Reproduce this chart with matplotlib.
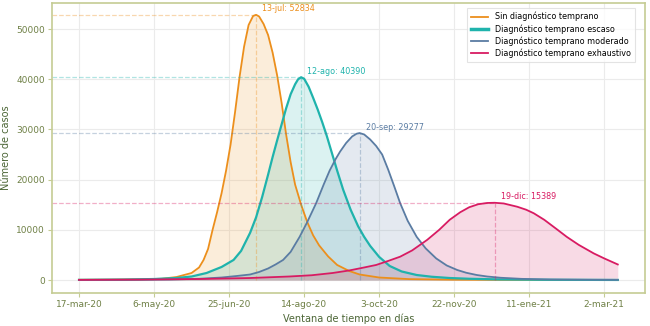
import matplotlib
matplotlib.use('Agg')
import matplotlib.pyplot as plt

# días desde el 17-mar-20
etiquetas_x = ['17-mar-20', '6-may-20', '25-jun-20', '14-ago-20', '3-oct-20',
               '22-nov-20', '11-ene-21', '2-mar-21']
ticks_x = [0, 50, 100, 150, 200, 250, 300, 350]
ticks_y = [0, 10000, 20000, 30000, 40000, 50000]

# sin diagnostico temprano
dias_sin = [0, 20, 40, 55, 65, 75, 80, 83, 86, 89, 92, 95, 98, 101, 104, 107, 110, 113, 116, 118,
            120, 123, 126, 129, 132, 135, 138, 141, 144, 148, 152, 156, 160, 166, 172, 180, 187,
            200, 220, 250, 300, 359]
casos_sin = [50, 70, 130, 250, 600, 1400, 2500, 4000, 6200, 10000, 13500, 17300, 21800, 27000,
             33500, 40500, 46500, 50800, 52600, 52834,
             52500, 51000, 48800, 45300, 40800, 35300, 29000, 23500, 19000, 15000, 11600, 8900,
             6900, 4700, 3000, 1800, 1100, 500, 180, 60, 20, 5]

# diagnostico temprano escaso
dias_escaso = [0, 30, 50, 65, 75, 85, 95, 103, 108, 114, 118, 122, 126, 129, 132, 135, 138, 141,
               144, 146, 148, 150, 153, 156, 159, 162, 165, 168, 172, 176, 181, 186, 190, 194,
               200, 207, 215, 225, 235, 247, 260, 280, 310, 359]
casos_escaso = [30, 80, 200, 400, 700, 1400, 2600, 4000, 5800, 9400, 12500, 16500, 21000, 24500,
                27800, 31000, 34200, 37000, 39000, 40000, 40390, 40100, 38500, 36300, 34000,
                31500, 28800, 25800, 21800, 18000, 14000, 10700, 8600, 6800, 4600, 2800, 1700,
                1000, 650, 400, 250, 120, 50, 15]

# diagnostico temprano moderado
dias_moderado = [0, 30, 60, 80, 95, 105, 114, 120, 126, 131, 136, 141, 147, 152, 158, 163, 167,
                 171, 174, 178, 182, 185, 187, 190, 194, 198, 202, 206, 210, 214, 219, 225, 231,
                 238, 245, 252, 258, 265, 272, 281, 295, 314, 340, 359]
casos_moderado = [20, 50, 100, 250, 500, 800, 1100, 1600, 2300, 3100, 4000, 5600, 8600, 11500,
                  15300, 19000, 21800, 24100, 25600, 27300, 28600, 29150, 29277, 29000, 28000,
                  26700, 25000, 22000, 18700, 15300, 11800, 8600, 6300, 4300, 2900, 2000, 1450,
                  1000, 700, 450, 230, 110, 50, 30]

# diagnostico temprano exhaustivo
dias_exhaustivo = [0, 40, 80, 114, 140, 155, 169, 180, 190, 198, 206, 214, 222, 232, 240, 247,
                   254, 260, 266, 272, 277, 283, 292, 298, 303, 310, 318, 325, 333, 343, 350, 359]
casos_exhaustivo = [30, 80, 200, 400, 700, 950, 1400, 1900, 2500, 3000, 3800, 4650, 5900, 8000,
                    10000, 12000, 13500, 14500, 15100, 15350, 15389, 15250, 14600, 14000, 13300,
                    12000, 10200, 8600, 7000, 5300, 4300, 3100]

picos = ['13-jul: 52834', '12-ago: 40390', '20-sep: 29277', '19-dic: 15389']

series = [
    ('Sin diagnóstico temprano', dias_sin, casos_sin, '#ec8f1c', 1.3),
    ('Diagnóstico temprano escaso', dias_escaso, casos_escaso, '#1fb3ac', 1.6),
    ('Diagnóstico temprano moderado', dias_moderado, casos_moderado, '#5a7ca3', 1.3),
    ('Diagnóstico temprano exhaustivo', dias_exhaustivo, casos_exhaustivo, '#d81b62', 1.3),
]

fig = plt.figure(figsize=(6.5, 3.26), dpi=100)
ax = fig.add_axes([0.08, 0.101, 0.912, 0.89])
x0, x1 = -18, 377
ax.set_xlim(x0, x1)
ax.set_ylim(-2600, 55200)

for (nombre, d, c, color, lw), texto in zip(series, picos):
    ax.plot(d, c, color=color, lw=lw, label=nombre)
    ax.fill_between(d, c, 0, color=color, alpha=0.16, lw=0)
    i = c.index(max(c))
    ax.hlines(c[i], x0, d[i], colors=color, linestyles='--', lw=0.9, alpha=0.35)
    ax.vlines(d[i], 0, c[i], colors=color, linestyles='--', lw=0.9, alpha=0.35)
    ax.text(d[i] + 4, c[i] + 300, texto, color=color, fontsize=5.8, va='bottom')

leg = ax.legend(loc='upper right', fontsize=5.8, frameon=True, fancybox=False,
                borderpad=0.5, handlelength=2.2, labelspacing=0.35, bbox_to_anchor=(0.99, 0.997))
leg.get_frame().set_edgecolor('#dddddd')
leg.get_frame().set_linewidth(0.8)
leg.get_lines()[1].set_linewidth(2.5)

ax.set_xticks(ticks_x)
ax.set_xticklabels(etiquetas_x)
ax.set_yticks(ticks_y)
ax.grid(True, color='#ebebeb', lw=0.8)
ax.set_axisbelow(True)
for s in ax.spines.values():
    s.set_color('#c5cc94')
    s.set_linewidth(1.2)
ax.tick_params(colors='#c5cc94', labelcolor='#6f8046', labelsize=6.5, length=3, pad=2)
ax.set_xlabel('Ventana de tiempo en días', color='#4c6636', fontsize=7, labelpad=3)
ax.set_ylabel('Número de casos', color='#4c6636', fontsize=7, labelpad=4)

fig.savefig('out.png', dpi=100)
